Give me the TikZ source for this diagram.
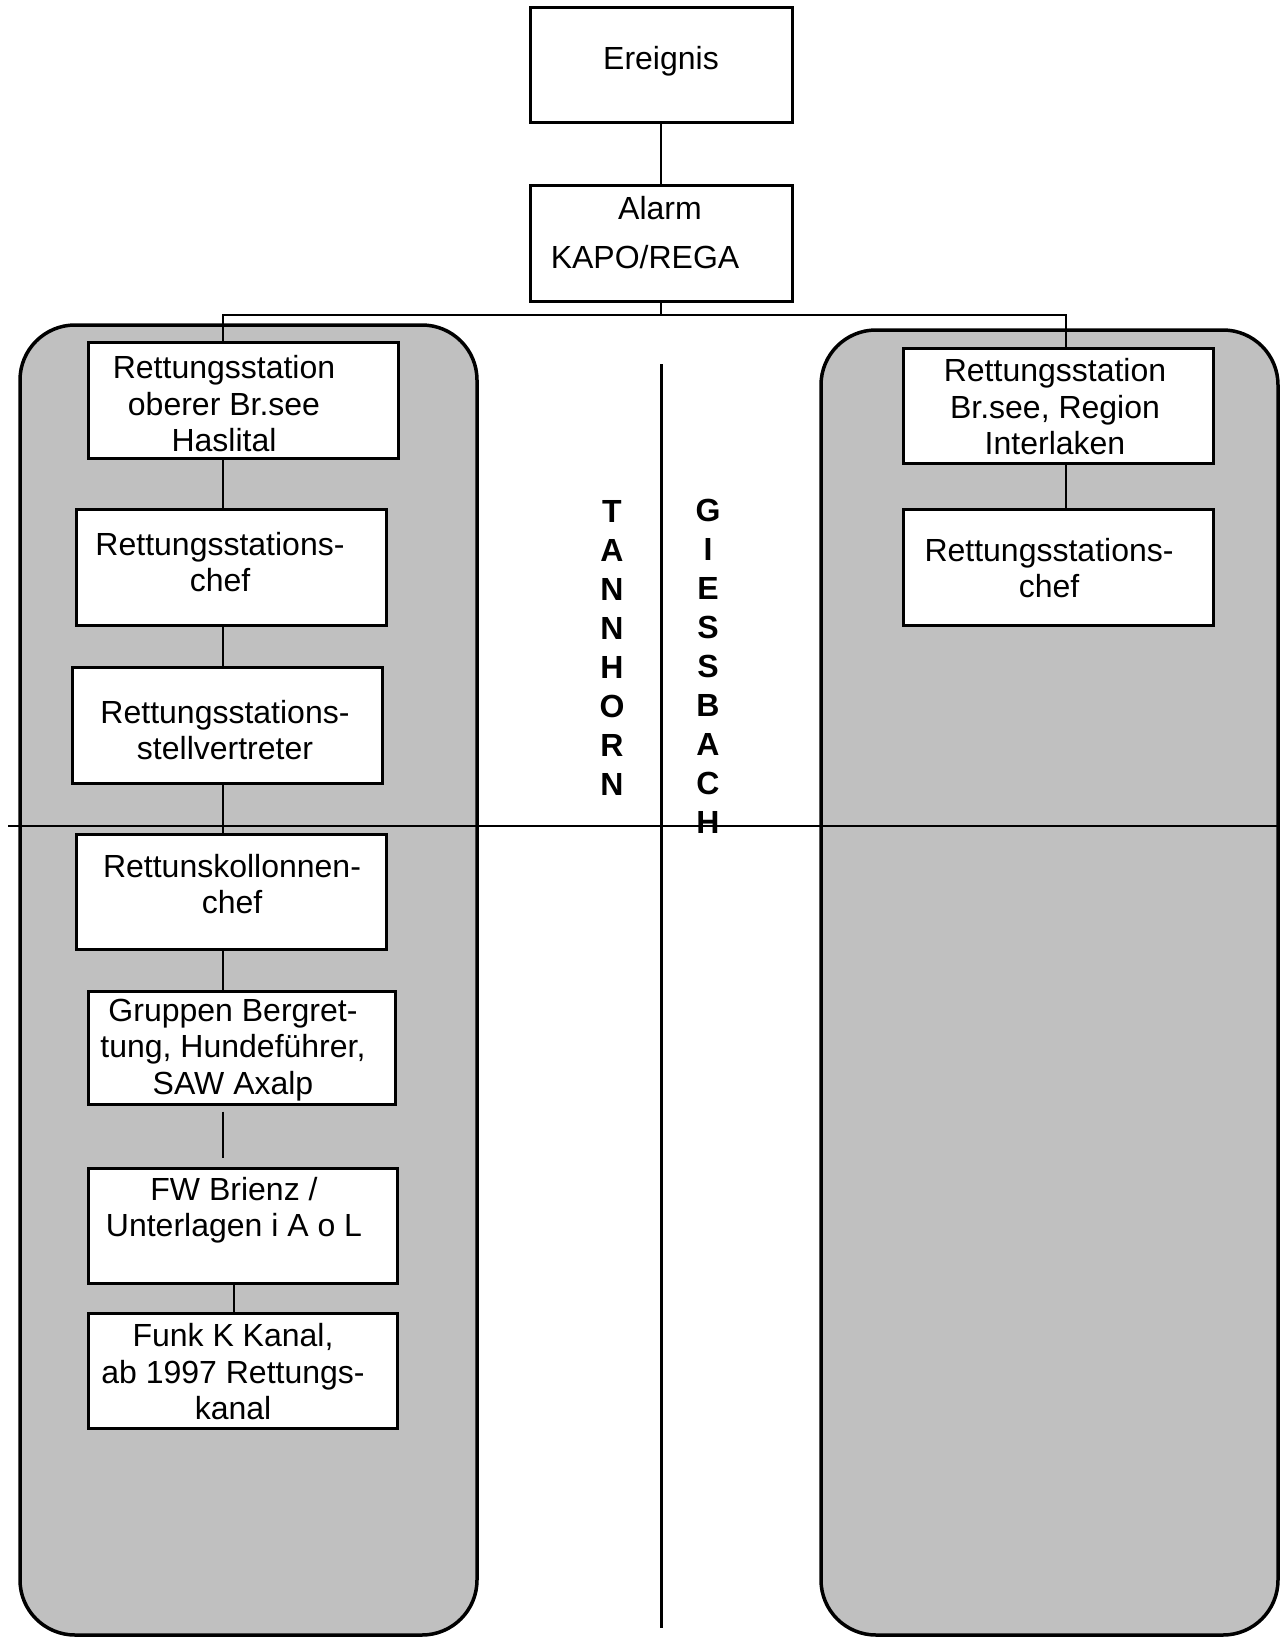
\documentclass[tikz,border=0pt]{standalone}
\usepackage{fontspec}
\setmainfont{Liberation Sans}
\definecolor{panelgray}{RGB}{192,192,192}
\begin{document}
\begin{tikzpicture}[x=1pt,y=-1pt,
  box/.style={draw, line width=3pt, fill=white, inner sep=0pt},
  txt/.style={align=center, inner sep=0pt, font=\fontsize{32}{36.5}\selectfont},
  lettr/.style={align=center, inner sep=0pt, font=\fontsize{32}{39}\selectfont\bfseries},
  panel/.style={draw, line width=3.5pt, fill=panelgray, rounded corners=55pt},
  conn/.style={line width=2.5pt},
  rule/.style={line width=2.5pt}]
\useasboundingbox (0,0) rectangle (1280,1638);
% panels
\path[panel] (20,325) rectangle (477,1635);
\path[panel] (821,330) rectangle (1278,1635);
% boxes
\node[box, minimum width=262pt, minimum height=115pt] (ev) at (661,64.5) {};
\node[box, minimum width=262pt, minimum height=116pt] (al) at (661,243) {};
\node[box, minimum width=310pt, minimum height=116pt] (l1) at (243,400) {};
\node[box, minimum width=310pt, minimum height=115pt] (r1) at (1058,405.5) {};
\node[box, minimum width=310pt, minimum height=116pt] (l2) at (231,567) {};
\node[box, minimum width=310pt, minimum height=116pt] (r2) at (1058,567) {};
\node[box, minimum width=310pt, minimum height=116pt] (l3) at (227,725) {};
\node[box, minimum width=310pt, minimum height=115pt] (l4) at (231,891.5) {};
\node[box, minimum width=307pt, minimum height=113pt] (l5) at (241.5,1047.5) {};
\node[box, minimum width=309pt, minimum height=115pt] (l6) at (242.5,1225.5) {};
\node[box, minimum width=309pt, minimum height=115pt] (l7) at (242.5,1370.5) {};
% guide coordinates
\coordinate (sp) at (223,0);
\coordinate (sp2) at (234,0);
\coordinate (spR) at (1066,0);
\coordinate (hb) at (661,315);
\coordinate (ct) at (661,364);
\coordinate (cb) at (661,1628);
\coordinate (hl) at (8,826);
\coordinate (hr) at (1280,826);
% connectors
\draw[conn] (ev.south) -- (al.north);
\draw[conn] (al.south) -- (hb);
\draw[conn] (l1.north -| sp) |- (hb) -| (r1.north -| spR);
\draw[conn] (l1.south -| sp) -- (l2.north -| sp);
\draw[conn] (l2.south -| sp) -- (l3.north -| sp);
\draw[conn] (l3.south -| sp) -- (l4.north -| sp);
\draw[conn] (l4.south -| sp) -- (l5.north -| sp);
\draw[conn, shorten <=6pt, shorten >=9pt] (l5.south -| sp) -- (l6.north -| sp);
\draw[conn] (l6.south -| sp2) -- (l7.north -| sp2);
\draw[conn] (r1.south -| spR) -- (r2.north -| spR);
% dividing lines
\draw[line width=3pt] (ct) -- (cb);
\draw[rule] (hl) -- (hr);
% texts
\node[txt] (evt) at (661,61) {Ereignis};
\node[txt, font=\fontsize{32}{49}\selectfont] (alt) at (660,233) {Alarm\\KAPO/REGA\rule{30pt}{0pt}};
\node[txt] (l1t) at (224,404) {Rettungsstation\\oberer Br.see\\Haslital};
\node[txt] (r1t) at (1055,407) {Rettungsstation\\Br.see, Region\\Interlaken};
\node[txt] (l2t) at (220,562) {Rettungsstations-\\chef};
\node[txt] (r2t) at (1049,568) {Rettungsstations-\\chef};
\node[txt] (l3t) at (225,730) {Rettungsstations-\\stellvertreter};
\node[txt] (l4t) at (232,884) {Rettunskollonnen-\\chef};
\node[txt] (l5t) at (233,1050) {Gruppen Bergret-\\tung, Hundeführer,\\SAW Axalp};
\node[txt] (l6t) at (234,1210) {FW Brienz /\\Unterlagen i A o L};
\node[txt] (l7t) at (233,1372) {Funk K Kanal,\\ab 1997 Rettungs-\\kanal};
\node[lettr] (tn) at (612,647.5) {T\\A\\N\\N\\H\\O\\R\\N};
\node[lettr] (gb) at (708,666.5) {G\\I\\E\\S\\S\\B\\A\\C\\H};
\end{tikzpicture}
\end{document}
